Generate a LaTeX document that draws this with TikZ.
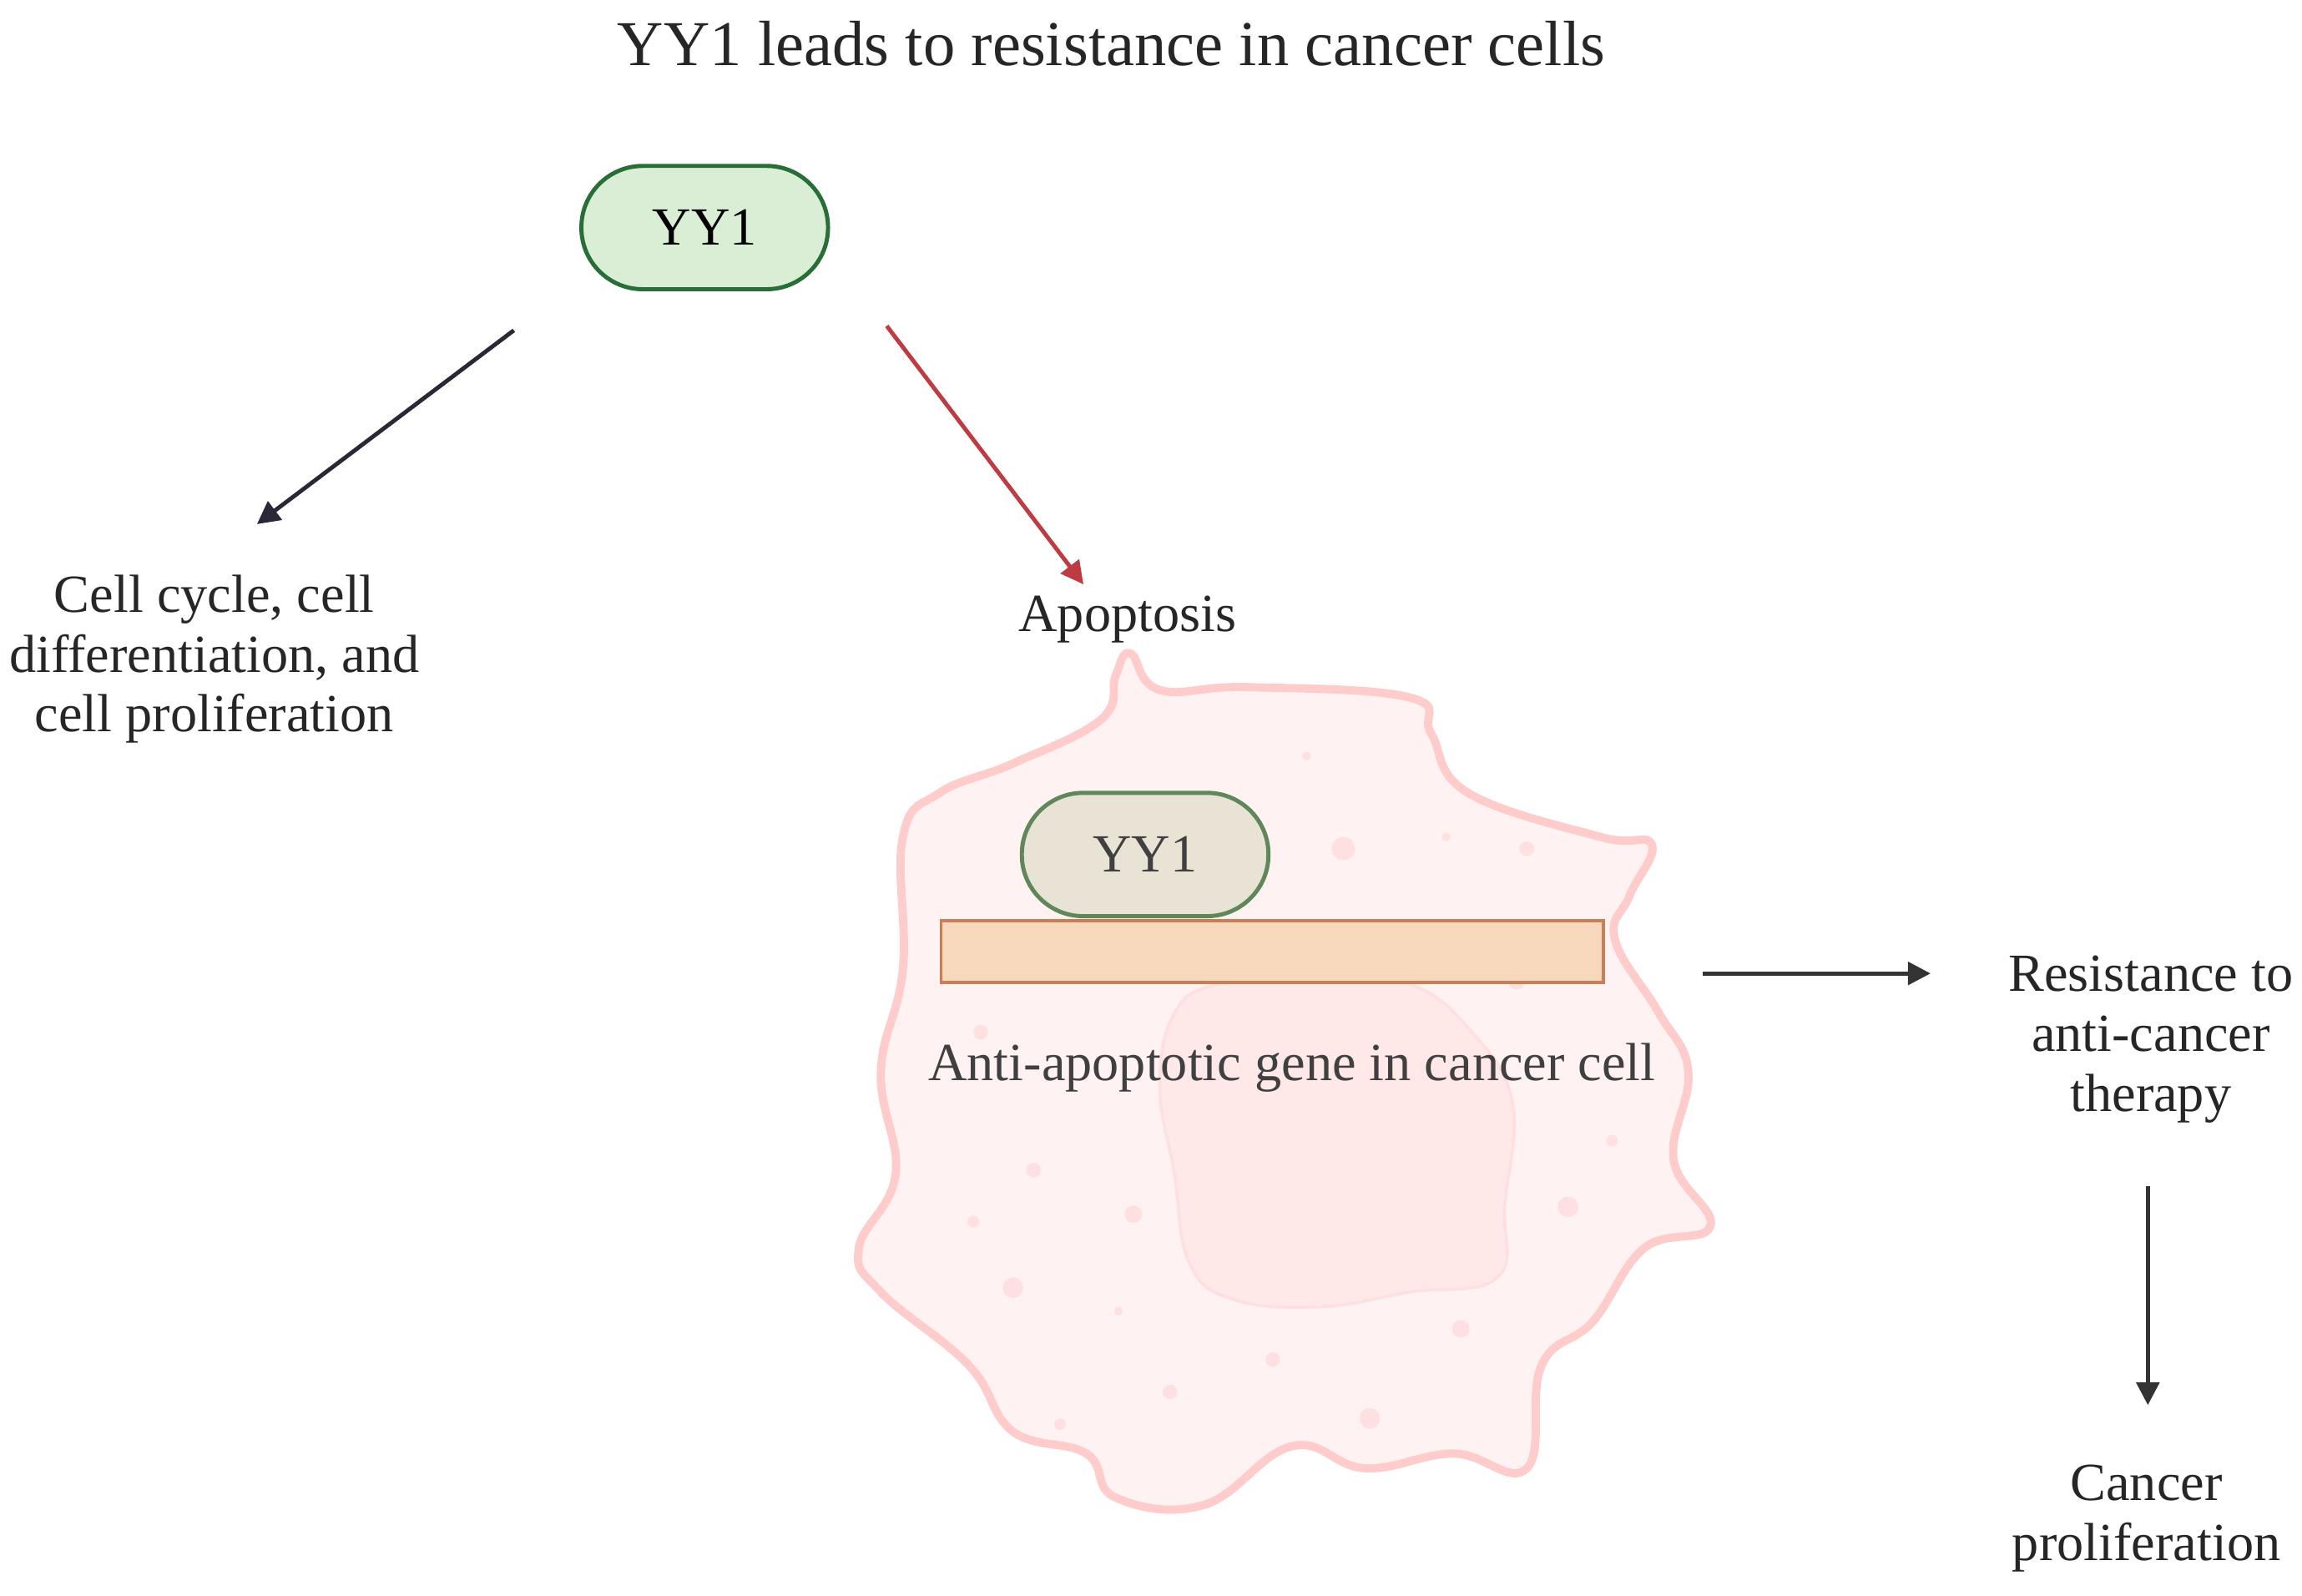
\documentclass[tikz,border=0pt]{standalone}
\usepackage{fontspec}
\setmainfont{Liberation Serif}
\usetikzlibrary{arrows.meta}
\begin{document}
\begin{tikzpicture}[x=0.05cm,y=-0.05cm,
  txt/.style={font=\fontsize{52}{58}\selectfont, text=black!85, align=center},
  pill/.style={rounded corners=20.9mm, minimum width=8.4cm, minimum height=4.2cm, line width=4pt, font=\fontsize{52}{58}\selectfont},
  arr/.style={line width=4pt, -{Triangle[length=22pt,width=22pt]}}]
\useasboundingbox (0,0) rectangle (1568,1087);
% cell
\draw[fill=red!5!white, draw=red!20!white, line width=8pt] plot[smooth cycle, tension=0.7] coordinates {
(770,445)(790,470)(850,468)(960,475)(975,500)(1000,540)(1090,570)(1125,575)(1110,610)(1100,640)(1130,690)(1150,730)(1140,790)(1165,835)(1120,850)(1085,900)(1050,930)(1040,1000)(990,990)(930,1000)(880,985)(820,1025)(760,1020)(740,990)(690,975)(660,930)(600,880)(585,850)(610,800)(600,730)(615,660)(615,570)(640,540)(690,520)(750,490)(760,460)};
\draw[fill=red!9!white, draw=red!12!white, line width=3pt] plot[smooth cycle, tension=0.7] coordinates {
(830,670)(900,660)(960,670)(1000,700)(1030,750)(1025,820)(1020,870)(960,880)(900,890)(840,885)(810,860)(800,800)(790,740)(800,690)};
\foreach \p/\r in {{(915,578)}/8,{(1040,578)}/5,{(985,570)}/3,{(890,515)}/3,{(722,970)}/4,{(704,797)}/5,{(772,827)}/6,{(690,877)}/7,{(663,832)}/4,{(762,893)}/3,{(797,948)}/5,{(933,966)}/7,{(867,926)}/5,{(995,905)}/6,{(1068,822)}/7,{(1098,777)}/4,{(668,703)}/5,{(840,635)}/7,{(930,640)}/4,{(1033,668)}/6,{(748,665)}/5}
  \fill[red!12!white] \p circle (\r);
% nodes
\node[txt, font=\fontsize{62}{70}\selectfont] (title) at (757,30) {YY1 leads to resistance in cancer cells};
\node[pill, fill={rgb,255:red,218;green,238;blue,214}, draw={rgb,255:red,40;green,110;blue,55}] (yy1) at (480,155) {YY1};
\coordinate (a1s) at (350,225); \coordinate (a1e) at (175,357);
\coordinate (a2s) at (604,222); \coordinate (a2e) at (738,398);
\draw[arr, color={rgb,255:red,40;green,40;blue,55}] (a1s) -- (a1e);
\draw[arr, color={rgb,255:red,190;green,60;blue,65}] (a2s) -- (a2e);
\node[txt] (cc) at (146,449) {Cell cycle, cell\\differentiation, and\\cell proliferation};
\node[txt] (apo) at (768,422) {Apoptosis};
\node[pill, fill={rgb,255:red,232;green,227;blue,212}, draw={rgb,255:red,95;green,135;blue,90}, text=black!75] (yy2) at (780,582) {YY1};
\node[draw={rgb,255:red,200;green,127;blue,85}, fill={rgb,255:red,248;green,216;blue,188}, line width=3pt, minimum width=22.55cm, minimum height=2.1cm, inner sep=0] (gene) at (866.5,648) {};
\node[txt, text=black!75] (gtxt) at (880,727) {Anti-apoptotic gene in cancer cell};
\coordinate (a3s) at (1160,663); \coordinate (a3e) at (1315,663);
\draw[arr, color=black!80] (a3s) -- (a3e);
\node[txt] (res) at (1465,708) {Resistance to\\anti-cancer\\therapy};
\coordinate (a4s) at (1463,808); \coordinate (a4e) at (1463,957);
\draw[arr, color=black!80] (a4s) -- (a4e);
\node[txt] (cp) at (1462,1034) {Cancer\\proliferation};
\end{tikzpicture}
\end{document}
